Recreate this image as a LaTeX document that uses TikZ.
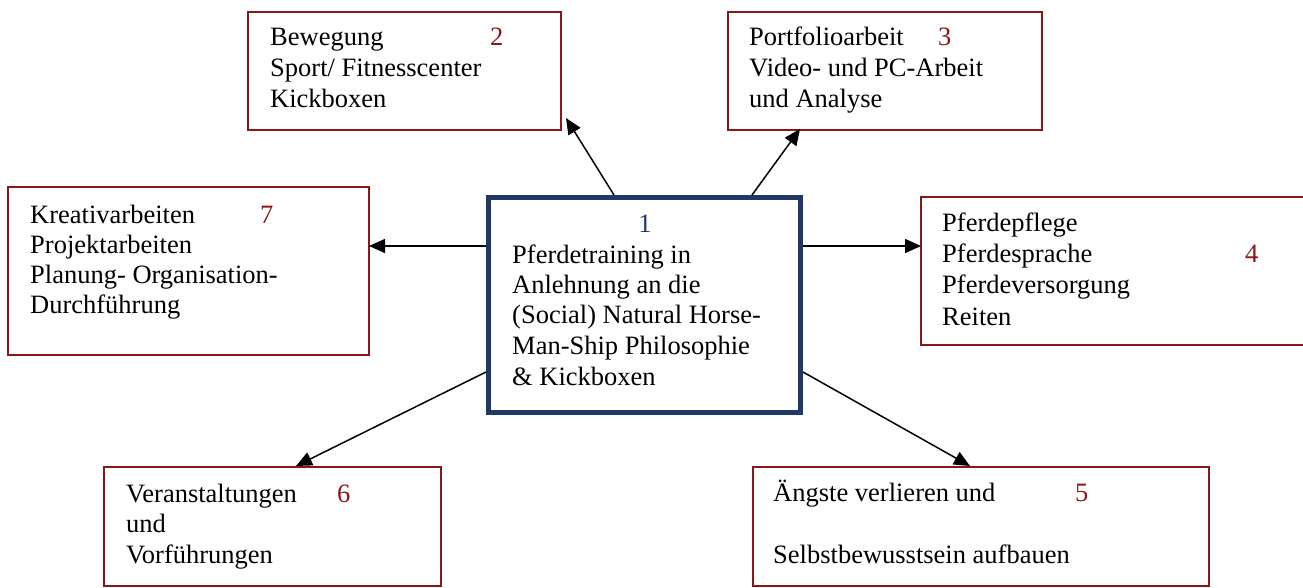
\documentclass[tikz,border=0pt]{standalone}
\usepackage{fontspec}
\setmainfont{Liberation Serif}
\usetikzlibrary{arrows.meta}
\definecolor{boxred}{RGB}{140,22,22}
\definecolor{navy}{RGB}{31,56,100}
\begin{document}
\begin{tikzpicture}[x=1pt,y=-1pt,
  redbox/.style={draw=boxred,line width=1.5pt,rectangle,inner sep=0pt},
  bluebox/.style={draw=navy,line width=5pt,rectangle,inner sep=0pt},
  txt/.style={anchor=base west,inner sep=0pt,font=\fontsize{26.5}{31}\selectfont},
  num/.style={txt,text=boxred},
  arr/.style={draw=black,line width=1.5pt,-{Triangle[length=16pt,width=14pt]}}]
\useasboundingbox (0,0) rectangle (1303,587);
\clip (0,0) rectangle (1303,587);
\fill[white] (0,0) rectangle (1303,587);
% boxes
\node[bluebox,minimum width=312pt,minimum height=215pt] (b1) at (644.5,305) {};
\node[redbox,minimum width=313pt,minimum height=118pt] (b2) at (404.5,71) {};
\node[redbox,minimum width=314pt,minimum height=118pt] (b3) at (885,71) {};
\node[redbox,minimum width=361pt,minimum height=168pt] (b7) at (188.5,271) {};
\node[redbox,minimum width=399pt,minimum height=148pt] (b4) at (1120.5,271) {};
\node[redbox,minimum width=337pt,minimum height=119pt] (b6) at (272.5,526.5) {};
\node[redbox,minimum width=456pt,minimum height=119pt] (b5) at (981,526.5) {};
% box 1 text
\node[txt,text=navy,anchor=base] (n1) at (645,232) {1};
\node[txt] (t1a) at (512,263) {Pferdetraining in};
\node[txt] (t1b) at (512,293) {Anlehnung an die};
\node[txt] (t1c) at (512,323) {(Social) Natural Horse-};
\node[txt] (t1d) at (512,354) {Man-Ship Philosophie};
\node[txt] (t1e) at (512,385) {\& Kickboxen};
% box 2
\node[txt] (t2a) at (270,45) {Bewegung};
\node[num] (n2) at (490,45) {2};
\node[txt] (t2b) at (270,76) {Sport/ Fitnesscenter};
\node[txt] (t2c) at (270,107) {Kickboxen};
% box 3
\node[txt] (t3a) at (749,45) {Portfolioarbeit};
\node[num] (n3) at (938,45) {3};
\node[txt] (t3b) at (749,76) {Video- und PC-Arbeit};
\node[txt] (t3c) at (749,107) {und Analyse};
% box 7
\node[txt] (t7a) at (30,223) {Kreativarbeiten};
\node[num] (n7) at (260,223) {7};
\node[txt] (t7b) at (30,253) {Projektarbeiten};
\node[txt] (t7c) at (30,283) {Planung- Organisation-};
\node[txt] (t7d) at (30,313) {Durchführung};
% box 4
\node[txt] (t4a) at (942,231) {Pferdepflege};
\node[txt] (t4b) at (942,262) {Pferdesprache};
\node[num] (n4) at (1245,262) {4};
\node[txt] (t4c) at (942,293) {Pferdeversorgung};
\node[txt] (t4d) at (942,325) {Reiten};
% box 6
\node[txt] (t6a) at (126,502) {Veranstaltungen};
\node[num] (n6) at (337,502) {6};
\node[txt] (t6b) at (126,532) {und};
\node[txt] (t6c) at (126,563) {Vorführungen};
% box 5
\node[txt] (t5a) at (773,501) {Ängste verlieren und};
\node[num] (n5) at (1075,501) {5};
\node[txt] (t5b) at (773,563) {Selbstbewusstsein aufbauen};
% arrows
\coordinate (s2) at (614,195);
\coordinate (e2) at (566,118);
\coordinate (s3) at (752,195);
\coordinate (e3) at (800,129);
\coordinate (s7) at (486,246);
\coordinate (e7) at (369,246);
\coordinate (s4) at (803,246);
\coordinate (e4) at (921,246);
\coordinate (s6) at (486,372);
\coordinate (e6) at (296,466);
\coordinate (s5) at (803,372);
\coordinate (e5) at (970,466);
\draw[arr] (s2) -- (e2);
\draw[arr] (s3) -- (e3);
\draw[arr] (s7) -- (e7);
\draw[arr] (s4) -- (e4);
\draw[arr] (s6) -- (e6);
\draw[arr] (s5) -- (e5);
\end{tikzpicture}
\end{document}
